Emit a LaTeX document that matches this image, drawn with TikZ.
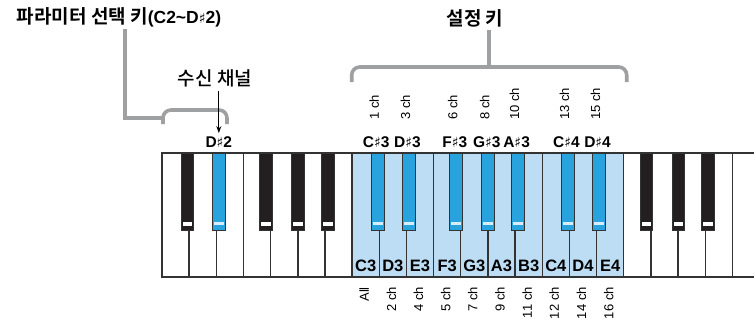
\documentclass[tikz,border=0pt]{standalone}
\usepackage{fontspec}
\setmainfont{Liberation Sans}
\newfontfamily\kofont{Noto Sans CJK KR}[BoldFont={Noto Sans CJK KR Bold}]
\newfontfamily\komedium{Noto Sans CJK KR Medium}
\newfontfamily\symfont{DejaVu Sans}
\newcommand\shp{{\symfont\mdseries\fontsize{14}{14}\selectfont ♯}}
\usetikzlibrary{arrows.meta}
\definecolor{keyLightBlue}{HTML}{BCDDF3}
\definecolor{keyBlue}{HTML}{29A3DE}
\definecolor{keyPaleBlue}{HTML}{D6EEFB}
\definecolor{keyBlack}{HTML}{231F20}
\definecolor{keyLine}{HTML}{333333}
\definecolor{bracketGray}{HTML}{9FA0A2}

\begin{document}
\begin{tikzpicture}[x=1pt, y=-1pt,
    whitekey/.style={draw=keyLine, line width=1.4pt},
    blackkey/.style={draw=keyLine, line width=1pt, fill=keyBlack},
    bluekey/.style={draw=keyLine, line width=1pt, fill=keyBlue},
    notelbl/.style={font=\fontsize{16.5}{16.5}\selectfont\bfseries, inner sep=0pt},
    sharplbl/.style={font=\fontsize{15.5}{15.5}\selectfont\bfseries, inner sep=0pt},
    chlbl/.style={font=\fontsize{13}{13}\selectfont, inner sep=0pt, rotate=90},
    titlelbl/.style={font=\fontsize{19}{19}\selectfont\kofont, inner sep=0pt},
    bracket/.style={draw=bracketGray, line width=3.6pt, rounded corners=8pt}]
    \useasboundingbox (0,0) rectangle (754,329);
    \clip (0,0) rectangle (754,329);
    \def\kw{27.16}
    % white keys, C3 to E4 marked
    \foreach \i in {0,...,21}{
        \pgfmathsetmacro{\xl}{162+\i*\kw}
        \def\kfill{white}
        \ifnum\i>6 \ifnum\i<17 \def\kfill{keyLightBlue}\fi\fi
        \draw[whitekey, fill=\kfill] (\xl,153) rectangle ++(\kw,124);
    }
    % black keys
    \foreach \bx/\bs/\bn in {187.66/blackkey/Cs2, 218.82/bluekey/Ds2, 266.14/blackkey/Fs2,
        298.1/blackkey/Gs2, 327.96/blackkey/As2, 377.78/bluekey/Cs3, 408.94/bluekey/Ds3,
        456.26/bluekey/Fs3, 488.22/bluekey/Gs3, 518.08/bluekey/As3, 567.9/bluekey/Cs4,
        599.06/bluekey/Ds4, 646.38/blackkey/Fs4, 678.34/blackkey/Gs4, 708.2/blackkey/As4}{
        \draw[\bs] (\bx-6.3,153) rectangle (\bx+6.3,230);
        \coordinate (\bn) at (\bx,153);
    }
    \foreach \bx in {187.66, 266.14, 298.1, 327.96, 646.38, 678.34, 708.2}
        \fill[white] (\bx-4.8,221.5) rectangle (\bx+4.8,225.5);
    \foreach \bx in {218.82, 377.78, 408.94, 456.26, 488.22, 518.08, 567.9, 599.06}
        \fill[keyPaleBlue] (\bx-4.8,221.5) rectangle (\bx+4.8,225);

    % note names
    \foreach \i/\nt/\ch in {7/C3/All, 8/D3/2 ch, 9/E3/4 ch, 10/F3/5 ch, 11/G3/7 ch,
        12/A3/9 ch, 13/B3/11 ch, 14/C4/12 ch, 15/D4/14 ch, 16/E4/16 ch}{
        \pgfmathsetmacro{\xc}{162+(\i+0.5)*\kw}
        \node[notelbl] (n\nt) at (\xc,265.7) {\nt};
        \node[chlbl, anchor=east] (c\nt) at (\xc-1.5,287) {\ch};
    }
    \foreach \bn/\nl/\no/\ch in {Cs3/C/3/1 ch, Ds3/D/3/3 ch, Fs3/F/3/6 ch, Gs3/G/3/8 ch,
        As3/A/3/10 ch, Cs4/C/4/13 ch, Ds4/D/4/15 ch}{
        \node[sharplbl] (l\bn) at ([xshift=-1.5pt,yshift=11.3pt]\bn) {\nl\shp\no};
        \node[chlbl, anchor=west] (c\bn) at ([xshift=-3.5pt,yshift=33pt]\bn) {\ch};
    }
    \node[sharplbl] (lDs2) at ([yshift=11.3pt]Ds2) {D\shp2};

    % titles
    \node[titlelbl] (paramkey) at (119,17)
        {\bfseries 파라미터 선택 키{\rmfamily\fontsize{17.5}{17.5}\selectfont(C2\textasciitilde D\shp2)}};
    \node[titlelbl] (setkey) at (475,18) {\bfseries 설정 키};
    \node[titlelbl] (recvch) at (215,78) {\komedium 수신 채널};

    % brackets
    \draw[bracket, rounded corners=0pt] (125,29) -- (125,118) -- (163,118);
    \draw[bracket] (163,124) -- (163,110) -- (227,110) -- (227,124);
    \draw[bracket] (351.7,82) -- (351.7,67) -- (626.7,67) -- (626.7,82);
    \draw[bracket] (489,30) -- (489,67);
    \draw[-{Stealth[length=7pt,width=5pt]}, line width=0.9pt] (recvch.south -| lDs2.north) ++(0,4) -- ([yshift=3pt]lDs2.north);
\end{tikzpicture}
\end{document}
